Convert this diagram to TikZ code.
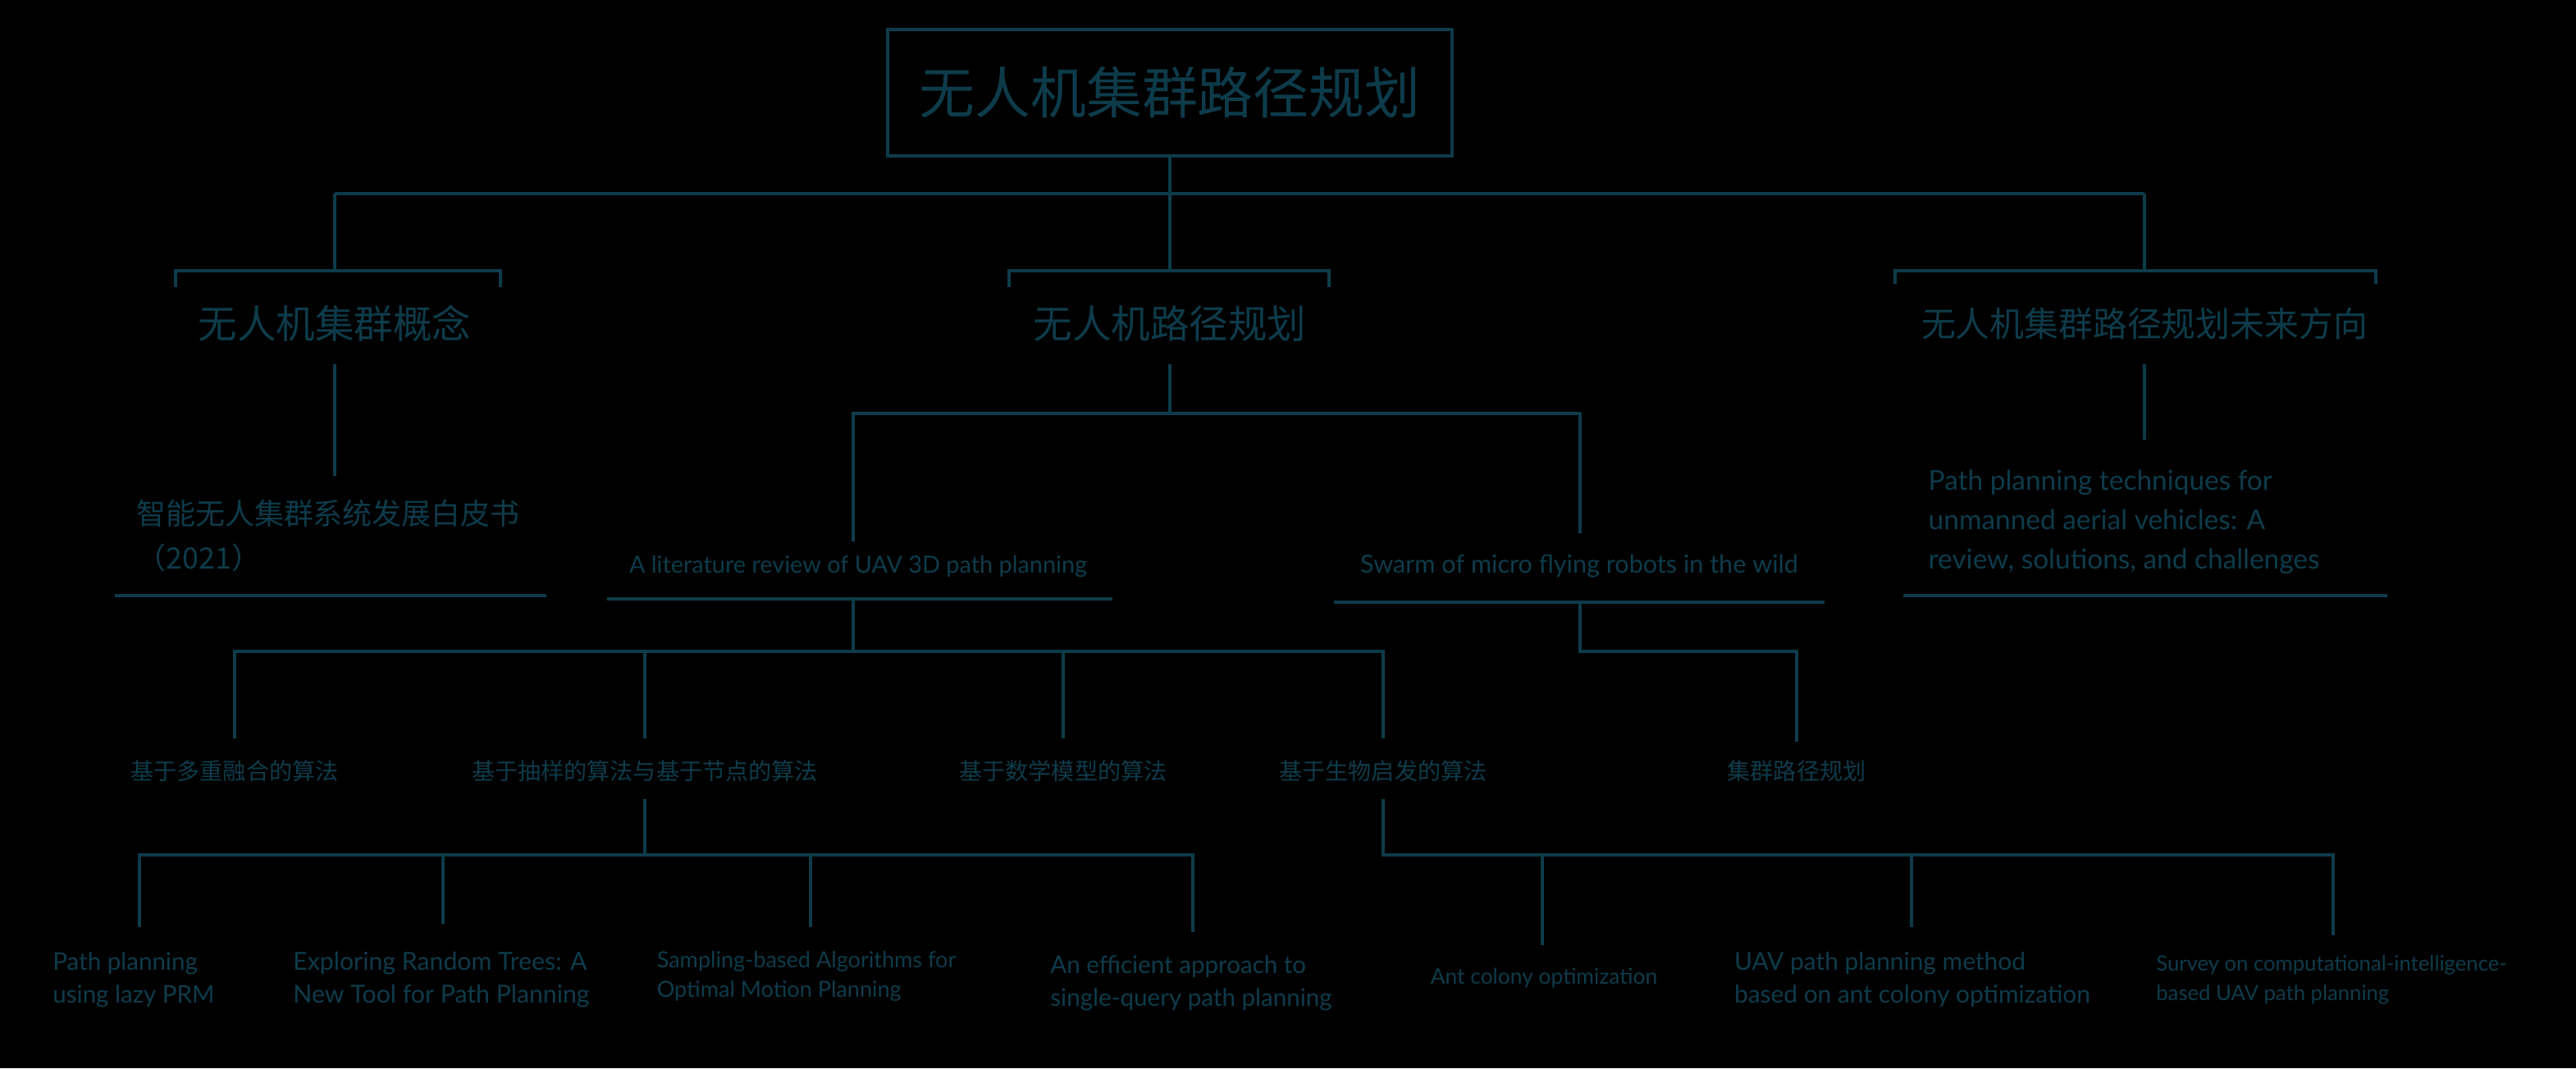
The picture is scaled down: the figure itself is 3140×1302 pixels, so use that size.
\documentclass[tikz,border=0pt]{standalone}
\usepackage{fontspec}
\setmainfont{Lato}
\newfontfamily\cjk{Noto Sans CJK SC}
\definecolor{ink}{HTML}{0E3B4A}
\definecolor{bg}{HTML}{000000}

\tikzset{
  wire/.style={draw=ink, line width=1.15pt, line cap=butt},
  rootbox/.style={draw=ink, line width=1.15pt, minimum width=6.87cm, minimum height=1.54cm,
    text=ink, font=\cjk\fontsize{19.3}{23}\selectfont},
  headA/.style={text=ink, inner sep=0pt, font=\cjk\fontsize{13.5}{16}\selectfont},
  headB/.style={text=ink, inner sep=0pt, font=\cjk\fontsize{11.9}{14}\selectfont},
  cjkref/.style={text=ink, inner sep=0pt, align=left, font=\cjk\fontsize{10.2}{15.3}\selectfont},
  cjkalg/.style={text=ink, inner sep=0pt, font=\cjk\fontsize{8}{10}\selectfont},
  paper/.style={text=ink, inner sep=0pt, align=left, font=\fontsize{8.4}{11.4}\selectfont},
  papersm/.style={text=ink, inner sep=0pt, align=left, font=\fontsize{7.5}{10.2}\selectfont},
  paperbig/.style={text=ink, inner sep=0pt, align=left, font=\fontsize{9.5}{13.6}\selectfont},
}

\begin{document}
\begin{tikzpicture}[x=0.01cm, y=-0.01cm]
  % canvas
  \fill[bg] (0,0) rectangle (3140,1302);
  \useasboundingbox (0,0) rectangle (3140,1302);

  % ---------- root ----------
  \node[rootbox] (root) at (1426,113) {无人机集群路径规划};
  \coordinate (busL) at (408,236);
  \coordinate (busM) at (1426,236);
  \coordinate (busR) at (2614,236);
  \draw[wire] (root.south) -- (busM);
  \draw[wire] (busL) -- (busR);

  % ---------- first level ----------
  \node[headA] (concept) at (408,394) {无人机集群概念};
  \node[headA] (uavpp)   at (1426,394) {无人机路径规划};
  \node[headB] (future)  at (2614,394) {无人机集群路径规划未来方向};

  % brackets above the first-level headings
  \coordinate (brA) at (408,330);
  \coordinate (brB) at (1426,330);
  \coordinate (brC) at (2614,330);
  \draw[wire] (busL) -- (brA);
  \draw[wire] (busM) -- (brB);
  \draw[wire] (busR) -- (brC);
  \draw[wire] (214,350) |- (610,330) -- (610,350);
  \draw[wire] (1230,350) |- (1620,330) -- (1620,350);
  \draw[wire] (2310,346) |- (2896,330) -- (2896,346);

  % ---------- second level ----------
  \node[cjkref, anchor=west] (white) at (166,653) {智能无人集群系统发展白皮书\\（2021）};
  \draw[wire] (140,726) -- (666,726);

  \node[text=ink, inner sep=0pt, font=\fontsize{8.2}{10}\selectfont] (litrev) at (1046,690)
    {A literature review of UAV 3D path planning};
  \draw[wire] (740,730) -- (1356,730);

  \node[text=ink, inner sep=0pt, font=\fontsize{8.7}{10}\selectfont] (swarm) at (1925,690)
    {Swarm of micro flying robots in the wild};
  \draw[wire] (1626,734) -- (2224,734);

  \node[paperbig, anchor=west] (ppt) at (2350,636)
    {Path planning techniques for\\unmanned aerial vehicles: A\\review, solutions, and challenges};
  \draw[wire] (2320,726) -- (2910,726);

  % links from first level to second level
  \coordinate (cA1) at (408,444);
  \coordinate (cA2) at (408,580);
  \draw[wire] (cA1) -- (cA2);

  \coordinate (cB1) at (1426,444);
  \coordinate (cB2) at (1426,504);
  \coordinate (cBl) at (1040,504);
  \coordinate (cBr) at (1926,504);
  \coordinate (cBl2) at (1040,660);
  \coordinate (cBr2) at (1926,650);
  \draw[wire] (cB1) -- (cB2);
  \draw[wire] (cBl2) -- (cBl) -- (cBr) -- (cBr2);

  \coordinate (cC1) at (2614,444);
  \coordinate (cC2) at (2614,536);
  \draw[wire] (cC1) -- (cC2);

  % ---------- third level ----------
  \node[cjkalg] (fusion) at (286,940) {基于多重融合的算法};
  \node[cjkalg] (sample) at (786,940) {基于抽样的算法与基于节点的算法};
  \node[cjkalg] (math)   at (1296,940) {基于数学模型的算法};
  \node[cjkalg] (bio)    at (1686,940) {基于生物启发的算法};
  \node[cjkalg] (swpp)   at (2190,940) {集群路径规划};

  \coordinate (lrT) at (1040,730);
  \coordinate (lrB) at (1040,794);
  \draw[wire] (lrT) -- (lrB);
  \draw[wire] (286,900) |- (1686,794) -- (1686,900);
  \draw[wire] (786,794) -- (786,900);
  \draw[wire] (1296,794) -- (1296,900);

  \coordinate (swT) at (1926,734);
  \draw[wire] (swT) |- (2190,794) -- (2190,904);

  % ---------- fourth level ----------
  \node[paper]   (lazy) at (163,1194) {Path planning\\using lazy PRM};
  \node[paper, font=\fontsize{8.6}{11.4}\selectfont] (rrt) at (538,1194)
    {Exploring Random Trees: A\\New Tool for Path Planning};
  \node[papersm, font=\fontsize{7.7}{10.2}\selectfont] (rrts) at (983,1190)
    {Sampling-based Algorithms for\\Optimal Motion Planning};
  \node[paper]   (sq)   at (1452,1198) {An efficient approach to\\single-query path planning};
  \node[papersm] (aco)  at (1882,1192) {Ant colony optimization};
  \node[paper, font=\fontsize{8.5}{11.4}\selectfont] (uaco) at (2331,1194)
    {UAV path planning method\\based on ant colony optimization};
  \node[papersm, font=\fontsize{7.3}{10.2}\selectfont] (ci) at (2842,1194)
    {Survey on computational-intelligence-\\based UAV path planning};

  \coordinate (smB) at (786,974);
  \draw[wire] (smB) -- (786,1042);
  \draw[wire] (170,1130) |- (1454,1042) -- (1454,1136);
  \draw[wire] (540,1042) -- (540,1126);
  \draw[wire] (988,1042) -- (988,1130);

  \coordinate (bioB) at (1686,974);
  \draw[wire] (bioB) |- (2844,1042) -- (2844,1140);
  \draw[wire] (1880,1042) -- (1880,1152);
  \draw[wire] (2330,1042) -- (2330,1130);
\end{tikzpicture}
\end{document}
